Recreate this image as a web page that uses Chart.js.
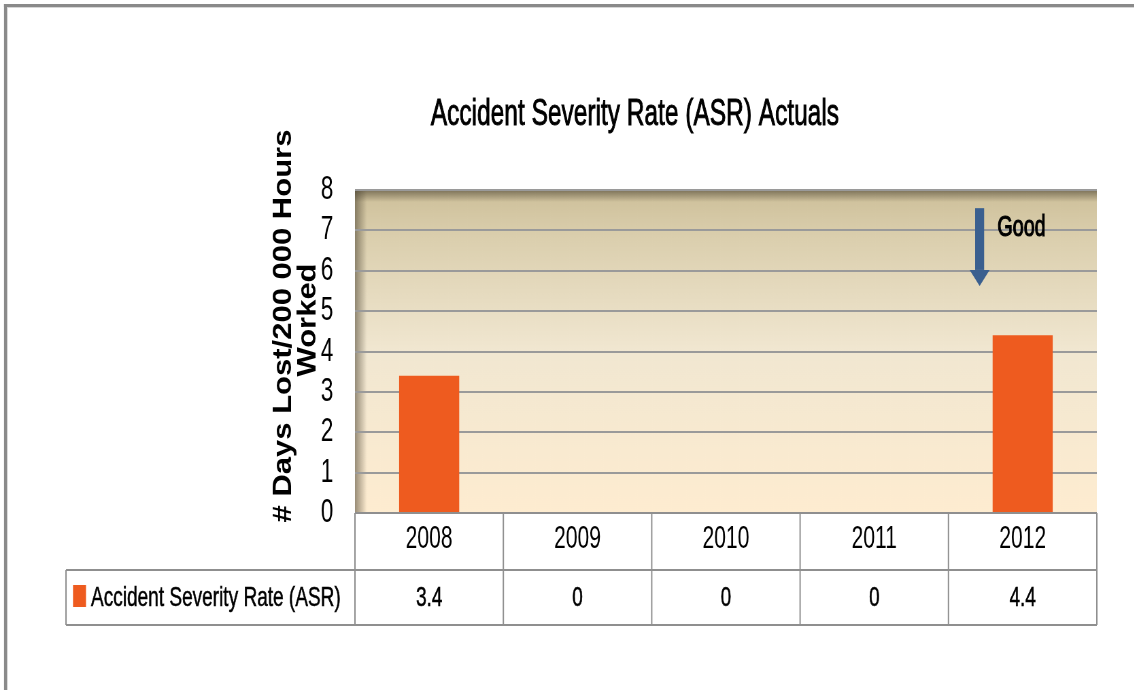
<!DOCTYPE html>
<html>
<head>
<meta charset="utf-8">
<script src="https://cdn.jsdelivr.net/npm/chart.js@4/dist/chart.umd.min.js"></script>
<style>
  html, body { margin: 0; padding: 0; background: #fff; overflow: hidden; }
  /* el original está comprimido a lo ancho: dibujamos ancho y escalamos */
  #wrap { position: absolute; left: 0; top: 0; width: 1668px; height: 690px;
          transform: scaleX(0.68); transform-origin: 0 0; }
</style>
</head>
<body>
<div id="wrap"><canvas id="graficoASR"></canvas></div>
<script>
const anios = ["2008", "2009", "2010", "2011", "2012"];
const valoresASR = [3.4, 0, 0, 0, 4.4];
const ticksY = [0, 1, 2, 3, 4, 5, 6, 7, 8];
const nombreSerie = "Accident Severity Rate (ASR)";
const titulo = "Accident Severity Rate (ASR) Actuals";
const tituloY = ["# Days Lost/200 000 Hours", "Worked"];

const FUENTE = "'Liberation Sans', Arial, sans-serif";
const SX = 0.68; // factor de compresión horizontal

function textoGrueso(ctx, t, px, py, grosor) {
  ctx.fillText(t, px, py);
  ctx.lineWidth = grosor;
  ctx.strokeStyle = ctx.fillStyle;
  ctx.strokeText(t, px, py);
}

const fondoPlot = {
  id: "fondoPlot",
  beforeDraw(chart) {
    const { ctx, chartArea: a } = chart;
    ctx.save();
    const g = ctx.createLinearGradient(0, a.top, 0, a.bottom);
    g.addColorStop(0, "#cdbf99");
    g.addColorStop(0.15, "#dbcfae");
    g.addColorStop(0.5, "#f1e7d1");
    g.addColorStop(1, "#feecd0");
    ctx.fillStyle = g;
    ctx.fillRect(a.left, a.top, a.right - a.left, a.bottom - a.top);

    // sombra interior arriba e izquierda
    const gt = ctx.createLinearGradient(0, a.top, 0, a.top + 12);
    gt.addColorStop(0, "rgba(70,62,45,0.6)");
    gt.addColorStop(1, "rgba(70,62,45,0)");
    ctx.fillStyle = gt;
    ctx.fillRect(a.left, a.top, a.right - a.left, 12);
    const gl = ctx.createLinearGradient(a.left, 0, a.left + 12 / SX, 0);
    gl.addColorStop(0, "rgba(70,62,45,0.55)");
    gl.addColorStop(1, "rgba(70,62,45,0)");
    ctx.fillStyle = gl;
    ctx.fillRect(a.left, a.top, 12 / SX, a.bottom - a.top);

    ctx.fillStyle = "#b5b5b5";
    ctx.fillRect(a.left, a.top - 1, a.right - a.left, 1);
    ctx.restore();
  }
};

const extras = {
  id: "extras",
  afterDraw(chart) {
    const { ctx, chartArea: a, scales } = chart;
    const x = scales.x, y = scales.y;
    ctx.save();

    // marco de la imagen
    ctx.fillStyle = "#8a8a8a";
    ctx.fillRect(4 / SX, 4, 3 / SX, 690);
    ctx.fillRect(4 / SX, 4, chart.width, 3);
    ctx.fillStyle = "#d6d6d6";
    ctx.fillRect(7 / SX, 7, 1 / SX, 690);
    ctx.fillRect(7 / SX, 7, chart.width, 1);

    // título
    ctx.fillStyle = "#000";
    ctx.font = "36px " + FUENTE;
    ctx.textAlign = "center";
    ctx.textBaseline = "alphabetic";
    textoGrueso(ctx, titulo, (a.left + a.right) / 2 - 91 / SX, 125, 0.9);

    // título eje Y (dos líneas, rotado)
    ctx.font = "bold 31px " + FUENTE;
    ctx.textBaseline = "middle";
    const posY = [[284 / SX, 326], [308 / SX, 320]];
    tituloY.forEach((t, i) => {
      ctx.save();
      ctx.translate(posY[i][0], posY[i][1]);
      ctx.scale(1.25, 1);
      ctx.rotate(-Math.PI / 2);
      ctx.fillText(t, 0, 0);
      ctx.restore();
    });

    // tabla de datos
    const filaTop = a.bottom;
    const filaMid = x.bottom;
    const filaBot = x.bottom + 55;
    const izqLeyenda = 66 / SX;
    ctx.strokeStyle = "#8f8f8f";
    ctx.lineWidth = 2;
    ctx.beginPath();
    ctx.moveTo(a.left, filaTop); ctx.lineTo(a.right, filaTop);
    ctx.moveTo(izqLeyenda, filaMid); ctx.lineTo(a.right, filaMid);
    ctx.moveTo(izqLeyenda, filaBot); ctx.lineTo(a.right, filaBot);
    ctx.moveTo(izqLeyenda, filaMid); ctx.lineTo(izqLeyenda, filaBot);
    for (let i = 0; i <= anios.length; i++) {
      const px = x.getPixelForValue(i - 0.5);
      ctx.moveTo(px, filaTop); ctx.lineTo(px, filaBot);
    }
    ctx.stroke();

    // leyenda
    ctx.fillStyle = "#ee5b1f";
    ctx.fillRect(73 / SX, 585, 13 / SX, 22);
    ctx.fillStyle = "#000";
    ctx.font = "28px " + FUENTE;
    ctx.textAlign = "left";
    ctx.textBaseline = "alphabetic";
    textoGrueso(ctx, nombreSerie, 91 / SX, 606, 0.5);

    // valores
    ctx.textAlign = "center";
    valoresASR.forEach((v, i) => {
      textoGrueso(ctx, String(v), x.getPixelForValue(i), 606, 0.5);
    });

    // flecha "Good"
    const ax = x.getPixelForValue(3.71);
    const yTop = y.getPixelForValue(7.55);
    const yHead = y.getPixelForValue(6.02);
    const yTip = y.getPixelForValue(5.62);
    ctx.fillStyle = "#3a5f8f";
    ctx.fillRect(ax - 4.5 / SX, yTop, 9 / SX, yHead - yTop);
    ctx.beginPath();
    ctx.moveTo(ax - 10 / SX, yHead);
    ctx.lineTo(ax + 10 / SX, yHead);
    ctx.lineTo(ax, yTip);
    ctx.closePath();
    ctx.fill();

    ctx.fillStyle = "#000";
    ctx.font = "29px " + FUENTE;
    ctx.textAlign = "left";
    ctx.textBaseline = "middle";
    textoGrueso(ctx, "Good", x.getPixelForValue(3.83), y.getPixelForValue(7.06), 1.1);

    ctx.restore();
  }
};

new Chart(document.getElementById("graficoASR"), {
  type: "bar",
  data: {
    labels: anios,
    datasets: [{
      label: nombreSerie,
      data: valoresASR,
      backgroundColor: "#ee5b1f",
      categoryPercentage: 1,
      barPercentage: 0.405
    }]
  },
  options: {
    responsive: true,
    maintainAspectRatio: false,
    animation: false,
    layout: { padding: { left: 422, right: 55, top: 190, bottom: 120 } },
    plugins: { legend: { display: false }, tooltip: { enabled: false } },
    scales: {
      x: {
        grid: { display: false, drawTicks: false },
        border: { display: false },
        ticks: { color: "#000", font: { family: FUENTE, size: 31 }, padding: 8, maxRotation: 0 },
        afterFit(s) { s.height = 57; }
      },
      y: {
        min: 0,
        max: 8,
        afterBuildTicks(s) { s.ticks = ticksY.map(v => ({ value: v })); },
        grid: { color: "#9a9a9a", lineWidth: 2, drawTicks: false },
        border: { display: false },
        ticks: { color: "#000", font: { family: FUENTE, size: 33 }, padding: 32, autoSkip: false },
        afterFit(s) { s.width = 100; }
      }
    }
  },
  plugins: [fondoPlot, extras]
});
</script>
</body>
</html>
